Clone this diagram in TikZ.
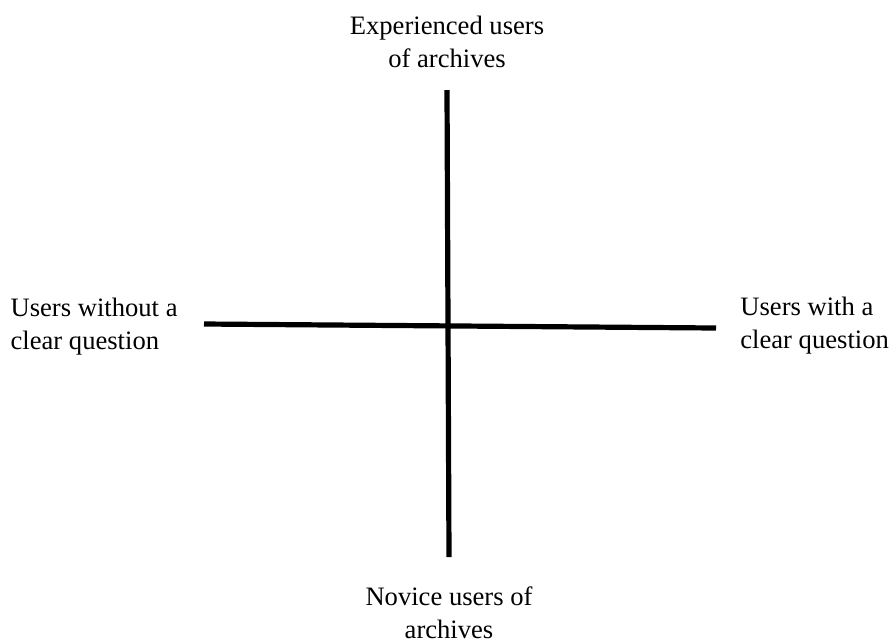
\documentclass[tikz,border=0pt]{standalone}
\usepackage{fontspec}
\setmainfont{Liberation Serif}
\usetikzlibrary{positioning}

\begin{document}
\begin{tikzpicture}[x=0.5pt, y=-0.5pt, axis/.style={line width=2.6pt},
        every node/.style={font=\fontsize{13.3}{16.5}\selectfont, align=center, inner sep=0pt}]
        \useasboundingbox (0,0) rectangle (894,639);
        % ends of the two axes
        \coordinate (T) at (447,90);
        \coordinate (B) at (449,557);
        \coordinate (L) at (204,324);
        \coordinate (R) at (716,328);

        \draw[axis] (T) -- (B);
        \draw[axis] (L) -- (R);

        \node (top) [above=11pt of T] {Experienced users\\of archives};
        \node (bottom) [below=14.5pt of B] {Novice users of\\archives};
        \node (left) [left=13pt of L, anchor=east, align=left, yshift=-1.5pt] {Users without a\\clear question};
        \node (right) [right=12pt of R, anchor=west, align=left, yshift=1pt] {Users with a\\clear question};
    \end{tikzpicture}
\end{document}
